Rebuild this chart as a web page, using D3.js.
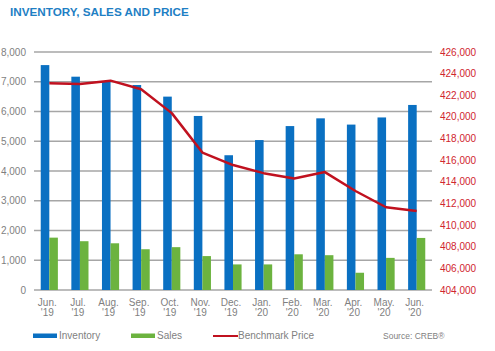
<!DOCTYPE html>
<html><head><meta charset="utf-8">
<script src="https://cdn.jsdelivr.net/npm/d3@7"></script>
<style>body{margin:0;background:#fff}svg{display:block;font-family:"Liberation Sans",Arial,sans-serif}</style>
</head><body><svg id="c" width="495" height="351"></svg>
<script>
const months = ["Jun.","Jul.","Aug.","Sep.","Oct.","Nov.","Dec.","Jan.","Feb.","Mar.","Apr.","May.","Jun."];
const years = ["'19","'19","'19","'19","'19","'19","'19","'20","'20","'20","'20","'20","'20"];
const inventory = [7560,7170,7010,6890,6500,5850,4530,5040,5510,5770,5560,5800,6220];
const sales = [1760,1640,1570,1370,1440,1140,860,860,1200,1170,580,1080,1750];
const price = [423100,423050,423350,422550,420350,416700,415550,414800,414300,414900,413150,411650,411300];
const leftTicks = [0,1000,2000,3000,4000,5000,6000,7000,8000];
const rightTicks = [404000,406000,408000,410000,412000,414000,416000,418000,420000,422000,424000,426000];

const svg = d3.select("#c");
const L = 34, R = 432, T = 52, B = 290;
const idx = months.map((d,i)=>i);
const x0 = d3.scaleBand().domain(idx).range([L,R]).paddingInner(0.44).paddingOuter(0.22);
const x1 = d3.scaleBand().domain(["inv","sal"]).range([0,x0.bandwidth()]);
const yL = d3.scaleLinear().domain([0,8000]).range([B,T]);
const yR = d3.scaleLinear().domain([404000,426000]).range([B,T]);
const fmt = d3.format(",");

svg.append("text").attr("x",10).attr("y",16).attr("fill","#1f7fc4").attr("font-weight","bold").attr("font-size",11.7).text("INVENTORY, SALES AND PRICE");

// gridlines
svg.append("g").selectAll("line").data(leftTicks).join("line")
  .attr("x1",L).attr("x2",R).attr("y1",d=>yL(d)).attr("y2",d=>yL(d))
  .attr("stroke","#a6a6a6").attr("stroke-width",1.5);

// left axis labels
svg.append("g").selectAll("text").data(leftTicks).join("text")
  .attr("x",26).attr("y",d=>yL(d)+3.5).attr("text-anchor","end")
  .attr("fill","#7f7f7f").attr("font-size",10).text(d=>fmt(d));

// right axis labels
svg.append("g").selectAll("text").data(rightTicks).join("text")
  .attr("x",440).attr("y",d=>yR(d)+3.5).attr("text-anchor","start")
  .attr("fill","#d0262e").attr("font-size",10).text(d=>fmt(d));

// bars
svg.append("g").selectAll("rect").data(inventory).join("rect")
  .attr("x",(d,i)=>x0(i)+x1("inv")).attr("width",x1.bandwidth())
  .attr("y",d=>yL(d)).attr("height",d=>B-yL(d)).attr("fill","#0a70c2");
svg.append("g").selectAll("rect").data(sales).join("rect")
  .attr("x",(d,i)=>x0(i)+x1("sal")).attr("width",x1.bandwidth())
  .attr("y",d=>yL(d)).attr("height",d=>B-yL(d)).attr("fill","#6cb33f");

// line
const line = d3.line().x((d,i)=>x0(i)+x0.bandwidth()/2).y(d=>yR(d));
svg.append("path").datum(price).attr("d",line).attr("fill","none")
  .attr("stroke","#c0111f").attr("stroke-width",2.5).attr("stroke-linejoin","round");

// x labels
const lx = i=>x0(i)+x0.bandwidth()/2-2;
const xl = svg.append("g").selectAll("text").data(idx).join("text")
  .attr("text-anchor","middle").attr("fill","#7f7f7f").attr("font-size",10);
xl.append("tspan").attr("x",lx).attr("y",306).text(i=>months[i]);
xl.append("tspan").attr("x",lx).attr("y",316).text(i=>years[i]);

// legend
const lg = svg.append("g");
lg.append("rect").attr("x",33).attr("y",333.5).attr("width",24).attr("height",4.5).attr("fill","#0a70c2");
lg.append("text").attr("x",59).attr("y",339).attr("fill","#7f7f7f").attr("font-size",10).text("Inventory");
lg.append("rect").attr("x",131).attr("y",333.5).attr("width",24).attr("height",4.5).attr("fill","#6cb33f");
lg.append("text").attr("x",157).attr("y",339).attr("fill","#7f7f7f").attr("font-size",10).text("Sales");
lg.append("line").attr("x1",213).attr("x2",238).attr("y1",336).attr("y2",336).attr("stroke","#c0111f").attr("stroke-width",2);
lg.append("text").attr("x",238).attr("y",339).attr("fill","#7f7f7f").attr("font-size",10).text("Benchmark Price");
lg.append("text").attr("x",383).attr("y",339).attr("fill","#7f7f7f").attr("font-size",8.5).text("Source: CREB®");
</script></body></html>
